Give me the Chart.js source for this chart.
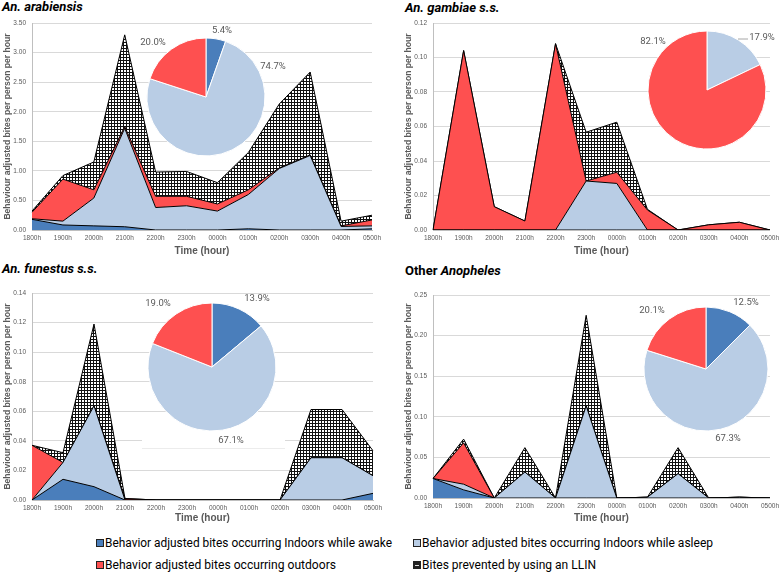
<!DOCTYPE html>
<html>
<head>
<meta charset="utf-8">
<script src="https://cdn.jsdelivr.net/npm/chart.js@4.4.1/dist/chart.umd.min.js"></script>
<style>
  body { margin: 0; background: #fff; width: 783px; height: 572px; position: relative; overflow: hidden; font-family: Roboto, 'Open Sans', sans-serif; }
  canvas { position: absolute; }
  .title { position: absolute; font-weight: bold; font-size: 13px; line-height: 15px; color: #000; white-space: nowrap; }
  .leg { position: absolute; font-size: 12px; line-height: 14px; color: #000; white-space: nowrap; }
  .box { position: absolute; width: 6px; height: 6px; border: 1px solid #222; }
  .txt { position: absolute; transform-origin: 0 50%; }
</style>
</head>
<body>
<div class="title" style="left:2px;top:-1px"><i>An. arabiensis</i></div>
<div class="title" style="left:405px;top:0px"><i>An. gambiae s.s.</i></div>
<div class="title" style="left:2px;top:261px"><i>An. funestus s.s.</i></div>
<div class="title" style="left:405px;top:263px">Other <i>Anopheles</i></div>

<canvas id="arab" width="390" height="270" style="left:0;top:0"></canvas>
<canvas id="gamb" width="393" height="270" style="left:390px;top:0"></canvas>
<canvas id="fune" width="390" height="260" style="left:0;top:270px"></canvas>
<canvas id="other" width="393" height="260" style="left:390px;top:270px"></canvas>

<canvas id="arabPie" width="180" height="170"></canvas>
<canvas id="gambPie" width="180" height="170"></canvas>
<canvas id="funePie" width="180" height="170"></canvas>
<canvas id="otherPie" width="180" height="170"></canvas>

<div id="legend"></div>

<script>
// Hours along the x axis
const hours = ['1800h', '1900h', '2000h', '2100h', '2200h', '2300h', '0000h', '0100h', '0200h', '0300h', '0400h', '0500h'];

// An. arabiensis
const arabAwake   = [0.18, 0.085, 0.07, 0.055, 0, 0, 0, 0.02, 0, 0, 0, 0.02];
const arabAsleep  = [0.01, 0.065, 0.47, 1.665, 0.38, 0.41, 0.32, 0.58, 1.04, 1.26, 0.06, 0.05];
const arabOutdoor = [0.11, 0.71, 0.14, 0.03, 0.19, 0.16, 0.12, 0.08, 0.01, 0.01, 0.01, 0.10];
const arabLlin    = [0.02, 0.06, 0.47, 1.55, 0.41, 0.42, 0.36, 0.63, 1.08, 1.40, 0.08, 0.08];
const arabPie     = [5.4, 74.7, 20.0];

// An. gambiae s.s.
const gambAwake   = [0, 0, 0, 0, 0, 0, 0, 0, 0, 0, 0, 0];
const gambAsleep  = [0, 0, 0, 0, 0, 0.0284, 0.027, 0, 0, 0, 0, 0];
const gambOutdoor = [0, 0.104, 0.0135, 0.0052, 0.108, 0, 0.0065, 0.0116, 0, 0.003, 0.0045, 0];
const gambLlin    = [0, 0, 0, 0, 0, 0.0283, 0.029, 0.0004, 0, 0, 0, 0];
const gambPie     = [17.9, 82.1];

// An. funestus s.s.
const funeAwake   = [0, 0.014, 0.009, 0, 0, 0, 0, 0, 0, 0, 0, 0.0045];
const funeAsleep  = [0, 0.0114, 0.0547, 0, 0, 0, 0, 0, 0, 0.0286, 0.0286, 0.0119];
const funeOutdoor = [0.037, 0, 0, 0.001, 0, 0, 0, 0, 0, 0, 0, 0];
const funeLlin    = [0, 0.0066, 0.0553, 0, 0, 0, 0, 0, 0, 0.0326, 0.0326, 0.0169];
const funePie     = [13.9, 67.1, 19.0];

// Other Anopheles
const otherAwake   = [0.024, 0.010, 0, 0, 0, 0, 0, 0, 0, 0, 0, 0];
const otherAsleep  = [0, 0.007, 0, 0.032, 0, 0.1135, 0, 0.001, 0.030, 0, 0.001, 0];
const otherOutdoor = [0, 0.051, 0, 0, 0, 0, 0, 0, 0, 0, 0, 0];
const otherLlin    = [0, 0.0045, 0, 0.030, 0, 0.1115, 0, 0, 0.032, 0, 0, 0];
const otherPie     = [12.5, 67.3, 20.1];

const legendLabels = [
    'Behavior adjusted bites occurring Indoors while awake',
    'Behavior adjusted bites occurring Indoors while asleep',
    'Behavior adjusted bites occurring outdoors',
    'Bites prevented by using an LLIN'
];

const AWAKE = '#4a7ebb';
const ASLEEP = '#b9cde5';
const OUTDOOR = '#fe5050';
const GREY = '#595959';

// Cross-hatch pattern for the LLIN layer
function makeHatch() {
    const p = document.createElement('canvas');
    p.width = 3;
    p.height = 3;
    const c = p.getContext('2d');
    c.fillStyle = '#fff';
    c.fillRect(0, 0, 3, 3);
    c.fillStyle = '#111';
    c.fillRect(0, 0, 3, 1);
    c.fillRect(0, 0, 1, 3);
    return document.getElementById('arab').getContext('2d').createPattern(p, 'repeat');
}
const hatch = makeHatch();

function areaChart(id, awake, asleep, outdoor, llin, yMax, yStep, box) {
    return new Chart(document.getElementById(id), {
        type: 'line',
        data: {
            labels: hours,
            datasets: [
                { data: awake, backgroundColor: AWAKE, fill: 'origin' },
                { data: asleep, backgroundColor: ASLEEP, fill: '-1' },
                { data: outdoor, backgroundColor: OUTDOOR, fill: '-1' },
                { data: llin, backgroundColor: hatch, fill: '-1' }
            ]
        },
        options: {
            responsive: false,
            animation: false,
            events: [],
            elements: {
                line: { borderColor: '#000', borderWidth: 1, tension: 0 },
                point: { radius: 0 }
            },
            layout: { padding: box.pad },
            plugins: { legend: { display: false }, tooltip: { enabled: false } },
            scales: {
                x: {
                    grid: { display: false, drawTicks: false },
                    border: { color: '#bfbfbf' },
                    ticks: { color: GREY, font: { size: 6.5 }, maxRotation: 0, autoSkip: false, padding: 4 },
                    title: { display: true, text: 'Time (hour)', color: GREY, font: { size: 10, weight: 'bold' }, padding: 0 },
                    afterFit(s) { s.height = box.xh; }
                },
                y: {
                    stacked: true,
                    min: 0,
                    max: yMax,
                    grid: { color: '#d9d9d9', drawTicks: false },
                    border: { color: '#bfbfbf' },
                    ticks: {
                        stepSize: yStep,
                        color: GREY,
                        font: { size: 6.5 },
                        padding: 6,
                        callback: v => v.toFixed(2)
                    },
                    title: { display: true, text: 'Behaviour adjusted bites per person per hour', color: GREY, font: { size: 8.6, weight: 'bold' }, padding: 0 },
                    afterFit(s) { s.width = box.yw; }
                }
            }
        }
    });
}

// Percentage labels around each pie
const pieLabels = {
    id: 'pieLabels',
    beforeDraw(chart, args, o) {
        if (!o.blank) return;
        const ctx = chart.ctx;
        const b = o.blank;
        ctx.save();
        ctx.fillStyle = '#fff';
        ctx.fillRect(b[0], b[1], b[2], b[3]);
        ctx.strokeStyle = '#ececec';
        ctx.beginPath();
        ctx.moveTo(b[0], b[1] + b[3] + 0.5);
        ctx.lineTo(b[0] + b[2], b[1] + b[3] + 0.5);
        ctx.stroke();
        ctx.restore();
    },
    afterDatasetsDraw(chart, args, o) {
        const arc = chart.getDatasetMeta(0).data[0];
        const ctx = chart.ctx;
        ctx.save();
        ctx.font = '9.5px Roboto';
        ctx.fillStyle = GREY;
        ctx.textAlign = 'center';
        ctx.textBaseline = 'middle';
        chart.data.datasets[0].data.forEach((v, i) => {
            const p = o.pos[i];
            ctx.fillText(v.toFixed(1) + '%', arc.x + p[0], arc.y + p[1]);
        });
        if (o.leader) {
            const l = o.leader;
            ctx.strokeStyle = '#a6a6a6';
            ctx.lineWidth = 1;
            ctx.beginPath();
            ctx.moveTo(arc.x + l[0], arc.y + l[1]);
            ctx.lineTo(arc.x + l[2], arc.y + l[3]);
            ctx.stroke();
        }
        ctx.restore();
    }
};

function pieChart(id, values, colors, cx, cy, r, labelOpts) {
    const c = document.getElementById(id);
    c.style.left = (cx - 90) + 'px';
    c.style.top = (cy - 85) + 'px';
    const padX = 90 - r - 0.5;
    const padY = 85 - r - 0.5;
    return new Chart(c, {
        type: 'pie',
        data: {
            datasets: [{ data: values, backgroundColor: colors, borderColor: '#fff', borderWidth: 1 }]
        },
        options: {
            responsive: false,
            animation: false,
            events: [],
            layout: { padding: { left: padX, right: padX, top: padY, bottom: padY } },
            plugins: { legend: { display: false }, tooltip: { enabled: false }, pieLabels: labelOpts }
        },
        plugins: [pieLabels]
    });
}

areaChart('arab', arabAwake, arabAsleep, arabOutdoor, arabLlin, 3.5, 0.5,
    { pad: { top: 23, bottom: 13, left: 2, right: 18 }, yw: 30, xh: 27 });
areaChart('gamb', gambAwake, gambAsleep, gambOutdoor, gambLlin, 0.12, 0.02,
    { pad: { top: 23, bottom: 13, left: 13, right: 8 }, yw: 30, xh: 27 });
areaChart('fune', funeAwake, funeAsleep, funeOutdoor, funeLlin, 0.14, 0.02,
    { pad: { top: 23, bottom: 6, left: 2, right: 17 }, yw: 30, xh: 24 });
areaChart('other', otherAwake, otherAsleep, otherOutdoor, otherLlin, 0.25, 0.05,
    { pad: { top: 25, bottom: 6, left: 13, right: 11 }, yw: 30, xh: 26 });

pieChart('arabPie', arabPie, [AWAKE, ASLEEP, OUTDOOR], 206, 97, 59,
    { pos: [[16, -66], [67, -30], [-53, -54]] });
pieChart('gambPie', gambPie, [ASLEEP, OUTDOOR], 707, 90, 59,
    { pos: [[55, -52], [-54, -48]], leader: [31, -51, 41, -51] });
pieChart('funePie', funePie, [AWAKE, ASLEEP, OUTDOOR], 212, 367, 64,
    { pos: [[45, -68], [19, 74], [-54, -63]], blank: [20, 146, 143, 20] });
pieChart('otherPie', otherPie, [AWAKE, ASLEEP, OUTDOOR], 706, 369, 62,
    { pos: [[40, -66], [22, 70], [-54, -58]] });

// Shared legend at the bottom
const legendItems = [
    { x: 96, y: 543, w: 287, bg: AWAKE },
    { x: 413, y: 543, w: 291, bg: ASLEEP },
    { x: 96, y: 565, w: 231, bg: OUTDOOR },
    { x: 413, y: 565, w: 174, bg: 'llin' }
];
const legend = document.getElementById('legend');
legendItems.forEach((item, i) => {
    const box = document.createElement('div');
    box.className = 'box';
    box.style.left = item.x + 'px';
    box.style.top = (item.y - 4) + 'px';
    if (item.bg === 'llin') {
        box.style.background = '#222';
        box.innerHTML = '<div style="position:absolute;left:1px;top:3px;width:4px;height:1px;background:#ddd"></div>';
    } else {
        box.style.background = item.bg;
    }
    legend.appendChild(box);

    const t = document.createElement('div');
    t.className = 'leg txt';
    t.textContent = legendLabels[i];
    t.style.left = (item.x + 9) + 'px';
    t.style.top = (item.y - 7) + 'px';
    legend.appendChild(t);
    const w = t.getBoundingClientRect().width;
    t.style.transform = 'scaleX(' + (item.w / w) + ')';
});
</script>
</body>
</html>
